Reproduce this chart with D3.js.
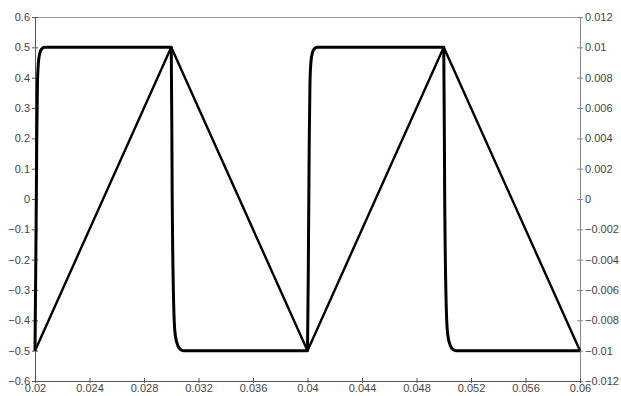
<!DOCTYPE html>
<html>
<head>
<meta charset="utf-8">
<script src="https://cdn.jsdelivr.net/npm/d3@7"></script>
<style>
  body { margin: 0; background: #fff; }
  text { font-family: "Liberation Sans", Arial, sans-serif; font-size: 11px; fill: #444; }
</style>
</head>
<body>
<div id="chart"></div>
<script>
// tick labels
var xTicks = [0.02, 0.024, 0.028, 0.032, 0.036, 0.04, 0.044, 0.048, 0.052, 0.056, 0.06];
var leftTicks = [-0.6, -0.5, -0.4, -0.3, -0.2, -0.1, 0, 0.1, 0.2, 0.3, 0.4, 0.5, 0.6];
var rightTicks = [-0.012, -0.01, -0.008, -0.006, -0.004, -0.002, 0, 0.002, 0.004, 0.006, 0.008, 0.01, 0.012];

// square wave (left axis), rounded knees
var squareT = [0.02, 0.02008, 0.02013, 0.02018, 0.02025, 0.02035, 0.0205, 0.0207,
               0.03, 0.03007, 0.0302, 0.0303, 0.0305, 0.0307, 0.0309,
               0.04, 0.04008, 0.04013, 0.04018, 0.04025, 0.04035, 0.0405, 0.0407,
               0.05, 0.05007, 0.0502, 0.0503, 0.0505, 0.0507, 0.0509,
               0.06];
var squareV = [-0.5, -0.1, 0.2, 0.38, 0.45, 0.48, 0.495, 0.5,
               0.5, 0.0, -0.38, -0.45, -0.485, -0.497, -0.5,
               -0.5, -0.1, 0.2, 0.38, 0.45, 0.48, 0.495, 0.5,
               0.5, 0.0, -0.38, -0.45, -0.485, -0.497, -0.5,
               -0.5];

// triangle wave (right axis)
var triT = [0.02, 0.03, 0.04, 0.05, 0.06];
var triV = [-0.01, 0.01, -0.01, 0.01, -0.01];

var margin = {top: 17, right: 41, bottom: 15, left: 35},
    width = 621 - margin.left - margin.right,
    height = 396 - margin.top - margin.bottom;

var svg = d3.select("#chart")
  .append("svg")
    .attr("width", 621)
    .attr("height", 396)
  .append("g")
    .attr("transform", "translate(" + margin.left + "," + margin.top + ")");

var x = d3.scaleLinear().domain([0.02, 0.06]).range([0, width]);
var yL = d3.scaleLinear().domain([-0.6, 0.6]).range([height, 0]);
var yR = d3.scaleLinear().domain([-0.012, 0.012]).range([height, 0]);

// top border
svg.append("line")
  .attr("x1", 0).attr("x2", width)
  .attr("y1", 0.5).attr("y2", 0.5)
  .attr("stroke", "#999").attr("stroke-width", 1);

function styleAxis(g, col) {
  g.select(".domain").attr("stroke", col);
  g.selectAll(".tick line").attr("stroke", col);
  g.selectAll(".tick text").attr("fill", "#444").style("font-size", "11px")
    .style("font-family", "Liberation Sans, Arial, sans-serif");
}

var fmt = function(d) { return d3.format("~g")(+d.toFixed(4)); };

// left axis
var gl = svg.append("g")
  .call(d3.axisLeft(yL).tickValues(leftTicks).tickFormat(fmt).tickSizeInner(3).tickSizeOuter(0).tickPadding(2));
gl.selectAll(".tick line").attr("x2", 3).attr("x1", -3);
styleAxis(gl, "#555");

// right axis
var gr = svg.append("g")
  .attr("transform", "translate(" + width + ",0)")
  .call(d3.axisRight(yR).tickValues(rightTicks).tickFormat(fmt).tickSizeInner(3).tickSizeOuter(0).tickPadding(2));
gr.selectAll(".tick line").attr("x1", -3).attr("x2", 3);
styleAxis(gr, "#888");

// bottom axis
var gb = svg.append("g")
  .attr("transform", "translate(0," + height + ")")
  .call(d3.axisBottom(x).tickValues(xTicks).tickFormat(fmt).tickSizeInner(3).tickSizeOuter(0).tickPadding(0));
gb.selectAll(".tick line").attr("y1", -3).attr("y2", 2);
styleAxis(gb, "#555");

// triangle wave
var triData = triT.map(function(t, i) { return {t: t, v: triV[i]}; });
svg.append("path")
  .datum(triData)
  .attr("fill", "none")
  .attr("stroke", "#000")
  .attr("stroke-width", 2.4)
  .attr("stroke-linejoin", "round")
  .attr("d", d3.line()
    .x(function(d) { return x(d.t); })
    .y(function(d) { return yR(d.v); }));

// square wave
var sqData = squareT.map(function(t, i) { return {t: t, v: squareV[i]}; });
svg.append("path")
  .datum(sqData)
  .attr("fill", "none")
  .attr("stroke", "#000")
  .attr("stroke-width", 3)
  .attr("stroke-linejoin", "round")
  .attr("d", d3.line()
    .curve(d3.curveMonotoneX)
    .x(function(d) { return x(d.t); })
    .y(function(d) { return yL(d.v); }));
</script>
</body>
</html>
